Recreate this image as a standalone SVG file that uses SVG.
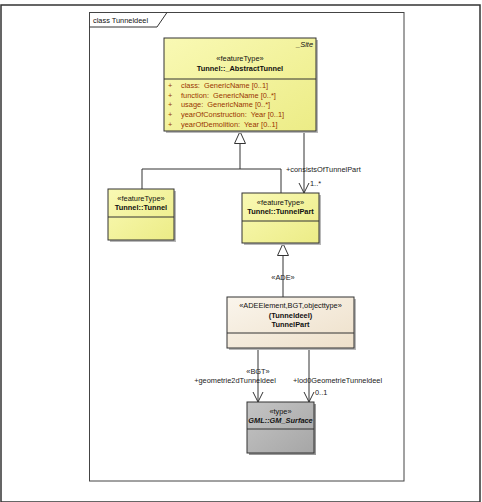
<svg xmlns="http://www.w3.org/2000/svg" width="482" height="502" viewBox="0 0 482 502">
<defs>
<linearGradient id="gy" x1="0" y1="0" x2="1" y2="1">
<stop offset="0" stop-color="#f9f9b4"/><stop offset="1" stop-color="#ecec86"/>
</linearGradient>
<linearGradient id="gb" x1="0" y1="0" x2="1" y2="1">
<stop offset="0" stop-color="#faf5ec"/><stop offset="1" stop-color="#eee0ca"/>
</linearGradient>
<linearGradient id="gg" x1="0" y1="0" x2="1" y2="1">
<stop offset="0" stop-color="#c4c4c4"/><stop offset="1" stop-color="#a6a6a6"/>
</linearGradient>
<marker id="open" viewBox="0 0 12 12" refX="11" refY="6" markerWidth="12" markerHeight="12" markerUnits="userSpaceOnUse" orient="auto">
<path d="M1,1 L11,6 L1,11" fill="none" stroke="#333" stroke-width="1"/>
</marker>
<marker id="gen" viewBox="0 0 14 14" refX="13" refY="7" markerWidth="14" markerHeight="14" markerUnits="userSpaceOnUse" orient="auto">
<path d="M1,1.5 L13,7 L1,12.5 Z" fill="#fff" stroke="#333" stroke-width="1"/>
</marker>
</defs>
<style>
text{font-family:"Liberation Sans",Arial,sans-serif;font-size:7.4px;fill:#111;white-space:pre}
.b{font-weight:bold}
.c{text-anchor:middle}
.r{text-anchor:end}
.at{fill:#993300}
.box{stroke:#333;stroke-width:1}
.sh{fill:#b8b8b8}
.ln{fill:none;stroke:#333;stroke-width:1}
.lbl{fill:#222}
</style>
<rect x="1" y="5" width="479" height="497" fill="#fff" stroke="#333" stroke-width="1.5"/>
<g id="frame">
<rect x="89.5" y="12.5" width="314.5" height="468.5" fill="#fff" stroke="#444" stroke-width="1"/>
<path d="M89.5,27 H157 L167,12.5" class="ln"/>
<text x="93" y="23">class Tunneldeel</text>
</g>
<g id="connectors">
<path d="M240,169 V131.5" class="ln" marker-end="url(#gen)"/>
<path d="M142,189 V169 H281 V193" class="ln"/>
<path d="M304,131 V193" class="ln" marker-end="url(#open)"/>
<text x="286" y="172" class="lbl">+consistsOfTunnelPart</text>
<text x="310" y="186" class="lbl">1..*</text>
<path d="M283,297 V243.5" class="ln" marker-end="url(#gen)"/>
<text x="283" y="280" class="c lbl">«ADE»</text>
<path d="M258,348 V402" class="ln" marker-end="url(#open)"/>
<text x="258" y="374" class="c lbl">«BGT»</text>
<text x="235" y="383" class="c lbl">+geometrie2dTunneldeel</text>
<path d="M309,348 V402" class="ln" marker-end="url(#open)"/>
<text x="293" y="383" class="lbl">+lod0GeometrieTunneldeel</text>
<text x="315" y="395" class="lbl">0..1</text>
</g>
<g id="abstractTunnel">
<rect x="166" y="40" width="152" height="93" class="sh"/>
<rect x="164" y="38" width="152" height="93" fill="url(#gy)" class="box"/>
<line x1="164" y1="79" x2="316" y2="79" class="ln"/>
<text x="313" y="47" class="r" style="font-style:italic">_Site</text>
<text x="240" y="61" class="c">«featureType»</text>
<text x="240" y="71" class="c b">Tunnel::_AbstractTunnel</text>
<text x="168" y="88" class="at">+</text><text x="181" y="88" class="at">class:  GenericName [0..1]</text>
<text x="168" y="97.7" class="at">+</text><text x="181" y="97.7" class="at">function:  GenericName [0..*]</text>
<text x="168" y="107.4" class="at">+</text><text x="181" y="107.4" class="at">usage:  GenericName [0..*]</text>
<text x="168" y="117.1" class="at">+</text><text x="181" y="117.1" class="at">yearOfConstruction:  Year [0..1]</text>
<text x="168" y="126.8" class="at">+</text><text x="181" y="126.8" class="at">yearOfDemolition:  Year [0..1]</text>
</g>
<g id="tunnel">
<rect x="110" y="191" width="66" height="51" class="sh"/>
<rect x="108" y="189" width="66" height="51" fill="url(#gy)" class="box"/>
<line x1="108" y1="217" x2="174" y2="217" class="ln"/>
<text x="141" y="201" class="c">«featureType»</text>
<text x="141" y="210" class="c b">Tunnel::Tunnel</text>
</g>
<g id="tunnelPart">
<rect x="244" y="195" width="77" height="50" class="sh"/>
<rect x="242" y="193" width="77" height="50" fill="url(#gy)" class="box"/>
<line x1="242" y1="221" x2="319" y2="221" class="ln"/>
<text x="280.5" y="205" class="c">«featureType»</text>
<text x="280.5" y="214" class="c b">Tunnel::TunnelPart</text>
</g>
<g id="adeTunnelPart">
<rect x="229" y="299" width="127" height="51" class="sh"/>
<rect x="227" y="297" width="127" height="51" fill="url(#gb)" class="box"/>
<line x1="227" y1="333" x2="354" y2="333" class="ln"/>
<text x="290.5" y="308" class="c">«ADEElement,BGT,objecttype»</text>
<text x="290.5" y="317.5" class="c b">(Tunneldeel)</text>
<text x="290.5" y="327" class="c b">TunnelPart</text>
</g>
<g id="gmSurface">
<rect x="249" y="404" width="67" height="51" class="sh" style="fill:#9a9a9a"/>
<rect x="247" y="402" width="67" height="51" fill="url(#gg)" class="box"/>
<line x1="247" y1="429" x2="314" y2="429" class="ln"/>
<text x="280.5" y="414" class="c">«type»</text>
<text x="280.5" y="423" class="c b" style="font-style:italic">GML::GM_Surface</text>
</g>
</svg>
